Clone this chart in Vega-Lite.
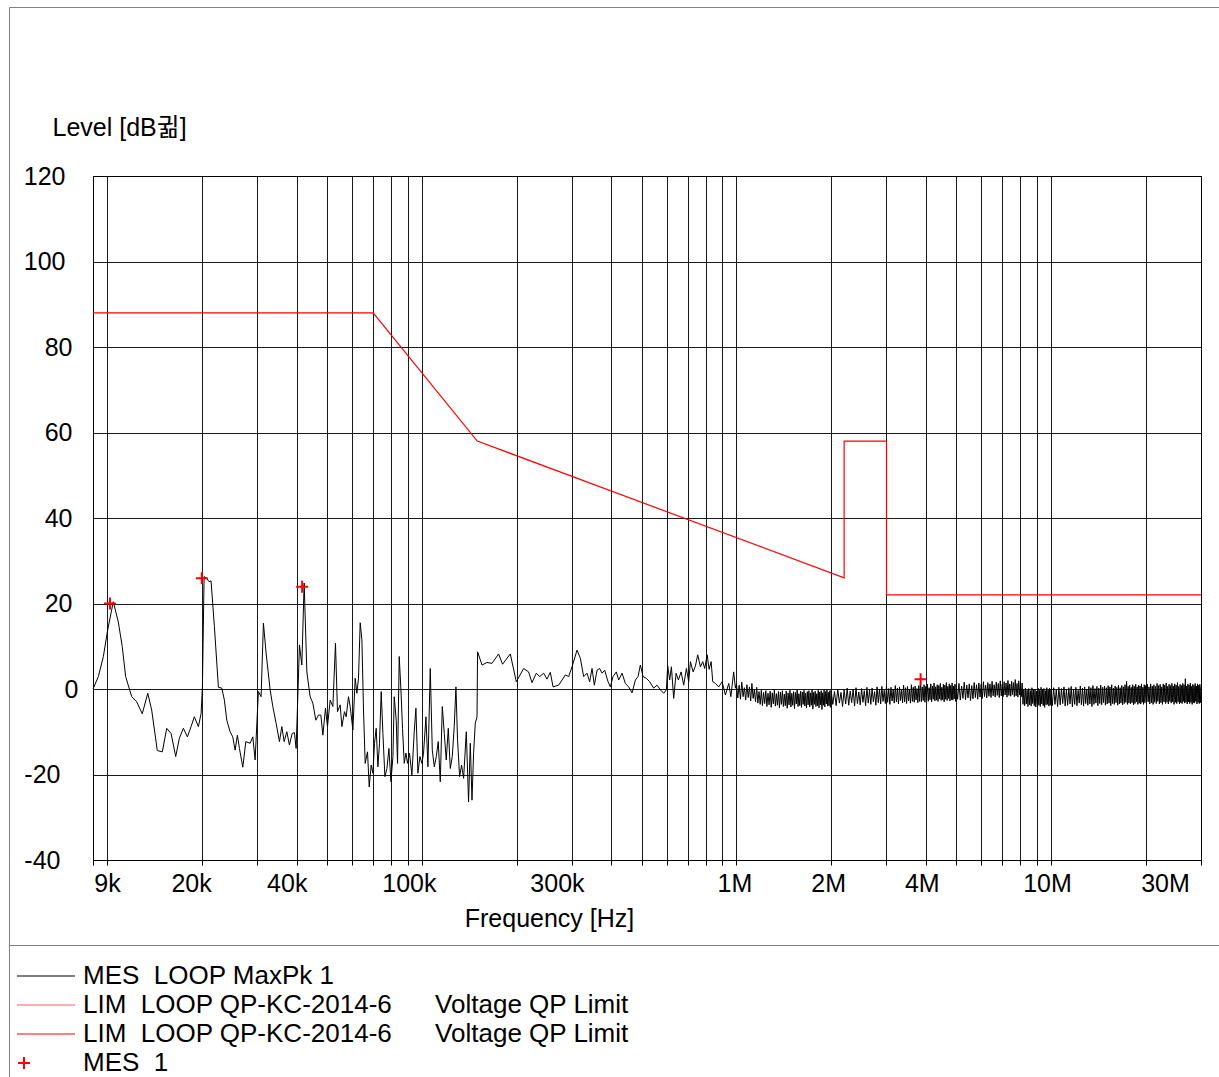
{
  "$schema": "https://vega.github.io/schema/vega-lite/v6.json",
  "usermeta": {"embedOptions": {"actions": false}},
  "width": 1210,
  "height": 938,
  "autosize": {"type": "none"},
  "padding": {"left": 9, "top": 7, "right": 0, "bottom": 132},
  "background": "white",
  "config": {
    "view": {"stroke": "#808080", "strokeWidth": 1},
    "font": "Liberation Sans",
    "axis": {"labelFont": "Liberation Sans, Noto Sans CJK KR", "titleFont": "Liberation Sans, Noto Sans CJK KR", "labelColor": "#000000", "titleColor": "#000000", "titleFontWeight": "normal"},
    "legend": {"labelFont": "Liberation Sans", "labelColor": "#000000"}
  },
  "datasets": {
    "limit": [
      {"i": 1, "f": 9, "v": 88}, {"i": 2, "f": 70, "v": 88}, {"i": 3, "f": 150, "v": 58}, {"i": 4, "f": 2200, "v": 26},
      {"i": 5, "f": 2200, "v": 58}, {"i": 6, "f": 3000, "v": 58}, {"i": 7, "f": 3000, "v": 22}, {"i": 8, "f": 30000, "v": 22}
    ],
    "marks": [
      {"f": 10.19, "v": 20.0, "s": "MES 1"}, {"f": 19.96, "v": 25.9, "s": "MES 1"}, {"f": 41.6, "v": 23.9, "s": "MES 1"}, {"f": 3851, "v": 2.3, "s": "MES 1"}
    ],
    "trace": [
      {"f":9,"v":0},{"f":9.36,"v":2.9},{"f":9.71,"v":7.6},{"f":10.02,"v":13.8},{"f":10.44,"v":20.4},{"f":10.83,"v":15.7},{"f":11.15,"v":9.9},{"f":11.43,"v":2.9},{"f":11.95,"v":-1.8},{"f":12.39,"v":-3.0},
      {"f":12.91,"v":-5.8},{"f":13.44,"v":-1.0},{"f":13.83,"v":-4.9},{"f":14.41,"v":-14.4},{"f":14.95,"v":-14.7},{"f":15.44,"v":-9.2},{"f":15.94,"v":-10.4},{"f":16.49,"v":-15.8},{"f":16.94,"v":-11.5},{"f":17.44,"v":-9.2},
      {"f":17.96,"v":-11.2},{"f":18.45,"v":-8.8},{"f":18.90,"v":-6.5},{"f":19.47,"v":-8.8},{"f":19.86,"v":-5.7},{"f":20.05,"v":0.5},{"f":20.30,"v":26.3},{"f":20.70,"v":25.9},{"f":21.05,"v":25.1},{"f":21.36,"v":25.3},
      {"f":21.89,"v":14.6},{"f":22.54,"v":0.4},{"f":23.11,"v":0.2},{"f":23.55,"v":-2.6},{"f":23.97,"v":-7.3},{"f":24.55,"v":-10},{"f":25.04,"v":-11.2},{"f":25.47,"v":-14.3},{"f":25.90,"v":-10.8},{"f":26.29,"v":-13.9},
      {"f":26.95,"v":-18.3},{"f":27.55,"v":-12.3},{"f":28.43,"v":-12.7},{"f":29.00,"v":-11.2},{"f":29.49,"v":-16.6},{"f":30.21,"v":-0.6},{"f":30.81,"v":-1.8},{"f":31.34,"v":15.4},{"f":31.96,"v":8.4},{"f":32.92,"v":-0.2},
      {"f":33.57,"v":-4.1},{"f":34.39,"v":-8.0},{"f":35.24,"v":-12.3},{"f":35.86,"v":-8.8},{"f":36.47,"v":-12.3},{"f":37.20,"v":-10},{"f":37.91,"v":-13.1},{"f":38.67,"v":-10.4},{"f":39.33,"v":-10.2},{"f":39.82,"v":-13.9},
      {"f":40.80,"v":10.3},{"f":41.52,"v":5.6},{"f":42.23,"v":24.8},{"f":43.07,"v":4.0},{"f":44.12,"v":-1.8},{"f":45.00,"v":-3.3},{"f":46.00,"v":-7.3},{"f":46.89,"v":-6.1},{"f":47.72,"v":-6.1},{"f":48.43,"v":-10.8},
      {"f":49.36,"v":-4.5},{"f":50.09,"v":-8.8},{"f":51.09,"v":-2.6},{"f":52.11,"v":-4.1},{"f":53.11,"v":10.7},{"f":53.90,"v":-5.3},{"f":54.97,"v":-3.7},{"f":55.66,"v":-8.8},{"f":56.73,"v":-5.3},{"f":57.44,"v":-6.5},
      {"f":58.42,"v":-1.8},{"f":59.15,"v":-4.1},{"f":60.33,"v":-9.6},{"f":61.36,"v":2.5},{"f":62.13,"v":-1.0},{"f":62.86,"v":2.5},{"f":63.65,"v":15.5},{"f":64.45,"v":11.5},{"f":65.21,"v":-4.9},{"f":66.02,"v":-17.4},
      {"f":67.15,"v":-14.7},{"f":67.99,"v":-22.9},{"f":68.99,"v":-17.8},{"f":69.86,"v":-19.7},{"f":70.68,"v":-12.7},{"f":71.56,"v":-9.2},{"f":72.46,"v":-18.2},{"f":73.31,"v":-12.7},{"f":74.23,"v":-0.6},{"f":75.16,"v":-10.4},
      {"f":76.27,"v":-20.5},{"f":77.40,"v":-18.6},{"f":78.54,"v":-13.9},{"f":79.71,"v":-21.7},{"f":80.88,"v":-15.8},{"f":81.66,"v":-1.8},{"f":82.86,"v":-7.3},{"f":83.65,"v":-17.4},{"f":84.70,"v":7.6},{"f":85.76,"v":-0.2},
      {"f":86.77,"v":-9.2},{"f":87.86,"v":-17.4},{"f":88.95,"v":-15.0},{"f":90.0,"v":-17.4},{"f":91.32,"v":-15.0},{"f":92.94,"v":-20.1},{"f":94.53,"v":-10},{"f":95.71,"v":-4.5},{"f":97.12,"v":-19.7},{"f":98.56,"v":-15.8},
      {"f":100.0,"v":-17.4},{"f":101.2,"v":-15.0},{"f":103.0,"v":-6.5},{"f":104.5,"v":-18.2},{"f":106.3,"v":4.8},{"f":107.9,"v":-14.3},{"f":109.5,"v":-18.2},{"f":111.1,"v":-15.8},{"f":112.7,"v":-12.3},{"f":114.4,"v":-21.7},
      {"f":116.1,"v":-4.1},{"f":117.8,"v":-10.4},{"f":119.5,"v":-16.6},{"f":121.3,"v":-9.2},{"f":123.1,"v":-18.6},{"f":124.9,"v":-15.8},{"f":126.7,"v":-8.8},{"f":128.3,"v":0.5},{"f":129.8,"v":-11.9},{"f":131.8,"v":-20.5},
      {"f":133.7,"v":-17.8},{"f":135.7,"v":-20.9},{"f":138.4,"v":-10},{"f":140.7,"v":-26.4},{"f":142.5,"v":-12.7},{"f":144.3,"v":-26},{"f":146.0,"v":-15},{"f":147.8,"v":-8.0},{"f":149.7,"v":-6.5},{"f":150.3,"v":8.7},
      {"f":155.3,"v":5.6},{"f":161.0,"v":6.2},{"f":167.0,"v":6.0},{"f":175.3,"v":8.2},{"f":180.5,"v":5.8},{"f":191.0,"v":8.2},{"f":199.6,"v":1.7},{"f":210.6,"v":4.8},{"f":218.4,"v":4.0},{"f":223.9,"v":1.5},
      {"f":231.1,"v":3.7},{"f":236.7,"v":2.9},{"f":243.8,"v":3.7},{"f":249.9,"v":2.3},{"f":256.0,"v":3.9},{"f":261.2,"v":0.5},{"f":272.1,"v":0.9},{"f":279.0,"v":2.1},{"f":285.8,"v":3.3},{"f":292.8,"v":2.9},
      {"f":300.2,"v":5.2},{"f":311.3,"v":9.1},{"f":319.0,"v":7.2},{"f":326.8,"v":2.9},{"f":335.0,"v":3.7},{"f":341.4,"v":1.7},{"f":347.5,"v":4.8},{"f":353.4,"v":0.9},{"f":360.5,"v":4.4},{"f":367.4,"v":4.8},
      {"f":373.9,"v":3.7},{"f":381.1,"v":4.4},{"f":390.7,"v":1.7},{"f":397.3,"v":0.5},{"f":405.3,"v":2.9},{"f":415.2,"v":4.0},{"f":422.2,"v":2.1},{"f":432.9,"v":3.7},{"f":443.5,"v":1.3},{"f":454.3,"v":0.5},
      {"f":465.8,"v":-0.9},{"f":477.2,"v":2.1},{"f":486.7,"v":2.9},{"f":495.0,"v":5.6},{"f":504.9,"v":2.9},{"f":517.2,"v":2.5},{"f":529.9,"v":1.7},{"f":545.6,"v":0.2},{"f":559.4,"v":0.9},{"f":573.1,"v":-0.2},
      {"f":587.1,"v":-1.0},{"f":598.8,"v":-0.2},{"f":604.6,"v":5.4},{"f":613.5,"v":2.1},{"f":621.2,"v":5.2},{"f":631.8,"v":-2.2},{"f":643.0,"v":3.7},{"f":653.9,"v":2.1},{"f":667.0,"v":4.0},{"f":679.8,"v":0.9},
      {"f":693.4,"v":4.8},{"f":705.2,"v":1.7},{"f":714.0,"v":6.4},{"f":728.3,"v":4.0},{"f":740.7,"v":5.4},{"f":753.3,"v":8.0},{"f":768.3,"v":5.2},{"f":781.4,"v":6.4},{"f":792.9,"v":4.8},{"f":807.0,"v":8.0},
      {"f":818.9,"v":4.6},{"f":831.0,"v":6.4},{"f":840.8,"v":1.7},{"f":857.6,"v":1.3},{"f":878.6,"v":0.5},{"f":900.7,"v":1.7},{"f":922.7,"v":-1.4},{"f":945.3,"v":1.3},{"f":960,"v":-1.8},{"f":980,"v":4.0},
      {"f":992.8,"v":0.2},
      {"f":1000,"v":1.2},{"f":1010,"v":-2.1},{"f":1020,"v":0.9},{"f":1030,"v":-2.4},{"f":1040,"v":1.6},{"f":1050,"v":-1.8},{"f":1060,"v":0.3},{"f":1070,"v":-2.6},{"f":1080,"v":1.0},{"f":1090,"v":-2.0},
      {"f":1100,"v":0.5},{"f":1110,"v":-2.8},{"f":1120,"v":1.3},{"f":1130,"v":-2.2},{"f":1140,"v":-0.2},{"f":1150,"v":-3.0},{"f":1160,"v":0.4},{"f":1170,"v":-3.3},{"f":1180,"v":-0.6},{"f":1190,"v":-3.6},
      {"f":1200,"v":-0.3},{"f":1210,"v":-3.9},{"f":1220,"v":-0.8},{"f":1230,"v":-3.4},{"f":1240,"v":-0.4},{"f":1250,"v":-4.1},{"f":1260,"v":-1.0},{"f":1270,"v":-3.7},{"f":1280,"v":-0.5},{"f":1290,"v":-4.3},
      {"f":1300,"v":-0.9},{"f":1310,"v":-3.5},{"f":1320,"v":-0.2},{"f":1330,"v":-4.0},{"f":1340,"v":-1.1},{"f":1350,"v":-3.8},{"f":1360,"v":-0.6},{"f":1370,"v":-4.4},{"f":1380,"v":-0.7},{"f":1390,"v":-3.6},
      {"f":1400,"v":-0.4},{"f":1410,"v":-4.1},{"f":1420,"v":-1.2},{"f":1430,"v":-3.9},{"f":1440,"v":-0.5},{"f":1450,"v":-4.5},{"f":1460,"v":-0.9},{"f":1470,"v":-3.7},{"f":1480,"v":-0.3},{"f":1490,"v":-4.2},
      {"f":1500,"v":-1.0},{"f":1510,"v":-3.8},{"f":1520,"v":-0.6},{"f":1530,"v":-4.6},{"f":1540,"v":-0.8},{"f":1550,"v":-3.5},{"f":1560,"v":-0.2},{"f":1570,"v":-4.1},{"f":1580,"v":-1.1},{"f":1590,"v":-3.9},
      {"f":1600,"v":-0.5},{"f":1610,"v":-4.3},{"f":1620,"v":-0.7},{"f":1630,"v":-3.6},{"f":1640,"v":-0.3},{"f":1650,"v":-4.0},{"f":1660,"v":-1.0},{"f":1670,"v":-4.4},{"f":1680,"v":-0.6},{"f":1690,"v":-3.7},
      {"f":1700,"v":-0.4},{"f":1710,"v":-4.2},{"f":1720,"v":-0.9},{"f":1730,"v":-3.8},{"f":1740,"v":-0.2},{"f":1750,"v":-4.7},{"f":1760,"v":-0.8},{"f":1770,"v":-3.6},{"f":1780,"v":-0.5},{"f":1790,"v":-4.1},
      {"f":1800,"v":-1.1},{"f":1810,"v":-3.9},{"f":1820,"v":-0.3},{"f":1830,"v":-4.4},{"f":1840,"v":-0.7},{"f":1850,"v":-3.7},{"f":1860,"v":-0.4},{"f":1870,"v":-4.8},{"f":1880,"v":-0.9},{"f":1890,"v":-3.8},
      {"f":1900,"v":-0.2},{"f":1910,"v":-4.2},{"f":1920,"v":-0.6},{"f":1930,"v":-3.5},{"f":1940,"v":-0.1},{"f":1950,"v":-4.0},{"f":1960,"v":-0.8},{"f":1970,"v":-3.9},{"f":1980,"v":-0.4},{"f":1990,"v":-4.3},
      {"f":2000,"v":-0.3},{"f":2025,"v":-3.6},{"f":2050,"v":-0.6},{"f":2075,"v":-3.9},{"f":2100,"v":0.0},{"f":2125,"v":-3.3},{"f":2150,"v":-0.8},{"f":2175,"v":-4.1},{"f":2200,"v":-0.2},{"f":2225,"v":-3.5},
      {"f":2250,"v":0.2},{"f":2275,"v":-3.8},{"f":2300,"v":-0.5},{"f":2325,"v":-3.2},{"f":2350,"v":-0.1},{"f":2375,"v":-4.0},{"f":2400,"v":0.3},{"f":2425,"v":-3.4},{"f":2450,"v":-0.7},{"f":2475,"v":-3.7},
      {"f":2500,"v":0.1},{"f":2525,"v":-3.1},{"f":2550,"v":-0.4},{"f":2575,"v":-3.9},{"f":2600,"v":0.4},{"f":2625,"v":-3.3},{"f":2650,"v":-0.2},{"f":2675,"v":-3.6},{"f":2700,"v":0.2},{"f":2725,"v":-3.0},
      {"f":2750,"v":-0.6},{"f":2775,"v":-3.8},{"f":2800,"v":0.5},{"f":2825,"v":-3.2},{"f":2850,"v":0.0},{"f":2875,"v":-3.5},{"f":2900,"v":0.6},{"f":2925,"v":-2.9},{"f":2950,"v":-0.3},{"f":2975,"v":-3.4},
      {"f":3000,"v":0.7},{"f":3025,"v":-3.1},{"f":3050,"v":0.1},{"f":3075,"v":-3.6},{"f":3100,"v":0.4},{"f":3125,"v":-2.8},{"f":3150,"v":-0.2},{"f":3175,"v":-3.3},{"f":3200,"v":0.8},{"f":3225,"v":-3.0},
      {"f":3250,"v":0.2},{"f":3275,"v":-3.5},{"f":3300,"v":0.5},{"f":3325,"v":-2.7},{"f":3350,"v":-0.1},{"f":3375,"v":-3.2},{"f":3400,"v":0.9},{"f":3425,"v":-3.0},{"f":3450,"v":0.3},{"f":3475,"v":-3.4},
      {"f":3500,"v":0.6},{"f":3525,"v":-2.8},{"f":3550,"v":0.0},{"f":3575,"v":-3.3},{"f":3600,"v":1.0},{"f":3625,"v":-2.9},{"f":3650,"v":0.4},{"f":3675,"v":-3.1},{"f":3700,"v":0.7},{"f":3725,"v":-2.6},
      {"f":3750,"v":0.1},{"f":3775,"v":-3.2},{"f":3800,"v":0.8},{"f":3825,"v":-2.9},{"f":3850,"v":2.1},{"f":3875,"v":-3.0},{"f":3900,"v":0.5},{"f":3925,"v":-2.7},{"f":3950,"v":1.0},{"f":3975,"v":-3.1},
      {"f":4000,"v":0.6},{"f":4025,"v":-2.6},{"f":4050,"v":1.1},{"f":4075,"v":-2.9},{"f":4100,"v":0.3},{"f":4125,"v":-2.5},{"f":4150,"v":1.2},{"f":4175,"v":-3.0},{"f":4200,"v":0.7},{"f":4225,"v":-2.4},
      {"f":4250,"v":1.4},{"f":4275,"v":-2.8},{"f":4300,"v":0.5},{"f":4325,"v":-2.6},{"f":4350,"v":1.0},{"f":4375,"v":-2.9},{"f":4400,"v":0.8},{"f":4425,"v":-2.3},{"f":4450,"v":1.3},{"f":4475,"v":-2.7},
      {"f":4500,"v":0.4},{"f":4525,"v":-2.5},{"f":4550,"v":1.1},{"f":4575,"v":-3.0},{"f":4600,"v":0.9},{"f":4625,"v":-2.4},{"f":4650,"v":1.5},{"f":4675,"v":-2.7},{"f":4700,"v":0.6},{"f":4725,"v":-2.2},
      {"f":4750,"v":1.2},{"f":4775,"v":-2.8},{"f":4800,"v":0.8},{"f":4825,"v":-2.5},{"f":4850,"v":1.4},{"f":4875,"v":-2.6},{"f":4900,"v":0.7},{"f":4925,"v":-2.3},{"f":4950,"v":1.1},{"f":4975,"v":-2.9},
      {"f":5000,"v":1.0},{"f":5050,"v":-2.4},{"f":5100,"v":1.3},{"f":5150,"v":-2.6},{"f":5200,"v":0.7},{"f":5250,"v":-2.2},{"f":5300,"v":1.6},{"f":5350,"v":-2.5},{"f":5400,"v":0.9},{"f":5450,"v":-2.1},
      {"f":5500,"v":1.2},{"f":5550,"v":-2.7},{"f":5600,"v":0.8},{"f":5650,"v":-2.3},{"f":5700,"v":1.5},{"f":5750,"v":-2.0},{"f":5800,"v":1.0},{"f":5850,"v":-2.4},{"f":5900,"v":1.4},{"f":5950,"v":-1.9},
      {"f":6000,"v":1.1},{"f":6050,"v":-2.2},{"f":6100,"v":1.7},{"f":6150,"v":-1.8},{"f":6200,"v":0.9},{"f":6250,"v":-2.1},{"f":6300,"v":1.5},{"f":6350,"v":-1.7},{"f":6400,"v":1.2},{"f":6450,"v":-2.0},
      {"f":6500,"v":1.8},{"f":6550,"v":-1.6},{"f":6600,"v":1.0},{"f":6650,"v":-1.9},{"f":6700,"v":1.6},{"f":6750,"v":-1.5},{"f":6800,"v":1.3},{"f":6850,"v":-2.0},{"f":6900,"v":1.9},{"f":6950,"v":-1.6},
      {"f":7000,"v":1.1},{"f":7050,"v":-1.8},{"f":7100,"v":1.7},{"f":7150,"v":-1.4},{"f":7200,"v":1.4},{"f":7250,"v":-1.9},{"f":7300,"v":2.0},{"f":7350,"v":-1.5},{"f":7400,"v":1.2},{"f":7450,"v":-1.7},
      {"f":7500,"v":1.8},{"f":7550,"v":-1.3},{"f":7600,"v":1.5},{"f":7650,"v":-1.8},{"f":7700,"v":2.2},{"f":7750,"v":-1.6},{"f":7800,"v":1.3},{"f":7850,"v":-1.9},{"f":7900,"v":1.9},{"f":7950,"v":-1.4},
      {"f":8000,"v":1.6},{"f":8050,"v":-1.8},{"f":8100,"v":1.4},{"f":8150,"v":-3.6},{"f":8200,"v":-0.1},{"f":8250,"v":-3.9},{"f":8300,"v":0.2},{"f":8350,"v":-3.5},{"f":8400,"v":-0.3},{"f":8450,"v":-4.1},
      {"f":8500,"v":0.1},{"f":8550,"v":-3.7},{"f":8600,"v":-0.4},{"f":8650,"v":-4.0},{"f":8700,"v":0.3},{"f":8750,"v":-3.4},{"f":8800,"v":-0.2},{"f":8850,"v":-3.9},{"f":8900,"v":0.0},{"f":8950,"v":-4.2},
      {"f":9000,"v":-0.5},{"f":9050,"v":-3.6},{"f":9100,"v":0.2},{"f":9150,"v":-3.8},{"f":9200,"v":-0.3},{"f":9250,"v":-4.1},{"f":9300,"v":0.4},{"f":9350,"v":-3.5},{"f":9400,"v":-0.1},{"f":9450,"v":-3.9},
      {"f":9500,"v":0.1},{"f":9550,"v":-4.3},{"f":9600,"v":-0.4},{"f":9650,"v":-3.7},{"f":9700,"v":0.3},{"f":9750,"v":-3.6},{"f":9800,"v":-0.2},{"f":9850,"v":-4.0},{"f":9900,"v":0.2},{"f":9950,"v":-3.8},
      {"f":10000,"v":0.0},{"f":10100,"v":-3.9},{"f":10200,"v":0.3},{"f":10300,"v":-3.6},{"f":10400,"v":-0.2},{"f":10500,"v":-4.1},{"f":10600,"v":0.4},{"f":10700,"v":-3.7},{"f":10800,"v":0.1},{"f":10900,"v":-3.4},
      {"f":11000,"v":0.5},{"f":11100,"v":-4.0},{"f":11200,"v":-0.1},{"f":11300,"v":-3.8},{"f":11400,"v":0.3},{"f":11500,"v":-3.5},{"f":11600,"v":0.6},{"f":11700,"v":-4.2},{"f":11800,"v":0.0},{"f":11900,"v":-3.6},
      {"f":12000,"v":0.4},{"f":12100,"v":-3.9},{"f":12200,"v":-0.3},{"f":12300,"v":-3.3},{"f":12400,"v":0.7},{"f":12500,"v":-3.7},{"f":12600,"v":0.2},{"f":12700,"v":-4.0},{"f":12800,"v":0.5},{"f":12900,"v":-3.4},
      {"f":13000,"v":-0.1},{"f":13100,"v":-3.8},{"f":13200,"v":0.6},{"f":13300,"v":-3.5},{"f":13400,"v":0.3},{"f":13500,"v":-4.1},{"f":13600,"v":0.8},{"f":13700,"v":-3.6},{"f":13800,"v":0.1},{"f":13900,"v":-3.3},
      {"f":14000,"v":0.6},{"f":14100,"v":-3.9},{"f":14200,"v":0.2},{"f":14300,"v":-3.4},{"f":14400,"v":0.9},{"f":14500,"v":-3.7},{"f":14600,"v":0.4},{"f":14700,"v":-3.2},{"f":14800,"v":0.7},{"f":14900,"v":-3.8},
      {"f":15000,"v":0.3},{"f":15100,"v":-3.5},{"f":15200,"v":0.8},{"f":15300,"v":-3.3},{"f":15400,"v":0.5},{"f":15500,"v":-3.9},{"f":15600,"v":1.0},{"f":15700,"v":-3.4},{"f":15800,"v":0.2},{"f":15900,"v":-3.6},
      {"f":16000,"v":0.7},{"f":16100,"v":-3.2},{"f":16200,"v":0.4},{"f":16300,"v":-3.8},{"f":16400,"v":0.9},{"f":16500,"v":-3.5},{"f":16600,"v":0.3},{"f":16700,"v":-3.3},{"f":16800,"v":0.8},{"f":16900,"v":-3.7},
      {"f":17000,"v":0.5},{"f":17100,"v":-3.4},{"f":17200,"v":1.0},{"f":17300,"v":-3.1},{"f":17400,"v":1.8},{"f":17500,"v":-3.6},{"f":17600,"v":0.6},{"f":17700,"v":-3.3},{"f":17800,"v":0.9},{"f":17900,"v":-3.5},
      {"f":18000,"v":0.4},{"f":18100,"v":-3.2},{"f":18200,"v":1.0},{"f":18300,"v":-3.7},{"f":18400,"v":0.6},{"f":18500,"v":-3.4},{"f":18600,"v":1.1},{"f":18700,"v":-3.0},{"f":18800,"v":0.5},{"f":18900,"v":-3.6},
      {"f":19000,"v":0.9},{"f":19100,"v":-3.3},{"f":19200,"v":0.7},{"f":19300,"v":-3.5},{"f":19400,"v":1.2},{"f":19500,"v":-3.1},{"f":19600,"v":0.4},{"f":19700,"v":-3.6},{"f":19800,"v":1.0},{"f":19900,"v":-3.2},
      {"f":20000,"v":0.8},{"f":20125,"v":-3.4},{"f":20250,"v":1.1},{"f":20375,"v":-3.0},{"f":20500,"v":0.5},{"f":20625,"v":-3.5},{"f":20750,"v":1.2},{"f":20875,"v":-3.2},{"f":21000,"v":0.7},{"f":21125,"v":-3.6},
      {"f":21250,"v":1.0},{"f":21375,"v":-3.1},{"f":21500,"v":0.6},{"f":21625,"v":-3.4},{"f":21750,"v":1.3},{"f":21875,"v":-2.9},{"f":22000,"v":0.8},{"f":22125,"v":-3.5},{"f":22250,"v":1.1},{"f":22375,"v":-3.2},
      {"f":22500,"v":0.5},{"f":22625,"v":-3.6},{"f":22750,"v":1.2},{"f":22875,"v":-3.0},{"f":23000,"v":0.9},{"f":23125,"v":-3.4},{"f":23250,"v":1.4},{"f":23375,"v":-3.1},{"f":23500,"v":0.6},{"f":23625,"v":-3.5},
      {"f":23750,"v":1.1},{"f":23875,"v":-2.9},{"f":24000,"v":0.8},{"f":24125,"v":-3.3},{"f":24250,"v":1.3},{"f":24375,"v":-3.0},{"f":24500,"v":0.7},{"f":24625,"v":-3.6},{"f":24750,"v":1.2},{"f":24875,"v":-3.1},
      {"f":25000,"v":0.9},{"f":25125,"v":-3.4},{"f":25250,"v":1.5},{"f":25375,"v":-3.0},{"f":25500,"v":0.6},{"f":25625,"v":-3.5},{"f":25750,"v":1.1},{"f":25875,"v":-3.2},{"f":26000,"v":0.8},{"f":26125,"v":-3.4},
      {"f":26250,"v":1.3},{"f":26375,"v":-2.9},{"f":26500,"v":1.0},{"f":26625,"v":-3.3},{"f":26750,"v":2.4},{"f":26875,"v":-3.1},{"f":27000,"v":0.7},{"f":27125,"v":-3.5},{"f":27250,"v":1.2},{"f":27375,"v":-3.0},
      {"f":27500,"v":0.9},{"f":27625,"v":-3.4},{"f":27750,"v":1.4},{"f":27875,"v":-3.1},{"f":28000,"v":0.6},{"f":28125,"v":-3.6},{"f":28250,"v":1.1},{"f":28375,"v":-3.2},{"f":28500,"v":0.8},{"f":28625,"v":-3.3},
      {"f":28750,"v":1.3},{"f":28875,"v":-2.9},{"f":29000,"v":0.7},{"f":29125,"v":-3.5},{"f":29250,"v":1.2},{"f":29375,"v":-3.1},{"f":29500,"v":0.9},{"f":29625,"v":-3.4},{"f":29750,"v":1.1},{"f":29875,"v":-3.2},
      {"f":30000,"v":0.5}
    ]
  },
  "resolve": {"scale": {"y": "independent"}, "axis": {"y": "independent"}},
  "layer": [
    {
      "layer": [
        {
          "data": {"name": "trace"},
          "mark": {"type": "line", "strokeWidth": 1, "clip": false},
          "encoding": {
            "x": {
              "field": "f", "type": "quantitative",
              "scale": {"type": "log", "domain": [9, 30000], "range": [84, 1192], "nice": false},
              "axis": {
                "orient": "bottom", "offset": -85,
                "values": [9, 10, 20, 30, 40, 50, 60, 70, 80, 90, 100, 200, 300, 400, 500, 600, 700, 800, 900, 1000, 2000, 3000, 4000, 5000, 6000, 7000, 8000, 9000, 10000, 20000, 30000],
                "labelExpr": "indexof([9,20,40,100,300,1000,2000,4000,10000,30000], datum.value) >= 0 ? (datum.value >= 1000 ? (datum.value / 1000) + 'M' : datum.value + 'k') : ''",
                "grid": false,
                "ticks": true, "tickSize": 5, "tickColor": "#000000", "tickWidth": 1,
                "domain": true, "domainColor": "#000000", "domainWidth": 1,
                "labelFontSize": 25, "labelPadding": 6, "labelBaseline": "top", "labelAlign": "center",
                "labelFlush": false, "labelOverlap": false, "labelBound": false,
                "labelOffset": {"condition": [
                  {"test": "datum.value == 9", "value": 14},
                  {"test": "datum.value == 20", "value": -11},
                  {"test": "datum.value == 40", "value": -10},
                  {"test": "datum.value == 100", "value": -13},
                  {"test": "datum.value == 300", "value": -15},
                  {"test": "datum.value == 1000", "value": -2},
                  {"test": "datum.value == 2000", "value": -3},
                  {"test": "datum.value == 4000", "value": -4},
                  {"test": "datum.value == 10000", "value": -4},
                  {"test": "datum.value == 30000", "value": -36}
                ], "value": 0},
                "title": "Frequency [Hz]", "titleFontSize": 25, "titleX": 540, "titleY": 66, "titleAlign": "center", "titleBaseline": "alphabetic"
              }
            },
            "y": {
              "field": "v", "type": "quantitative",
              "scale": {"domain": [-40, 120], "range": [853, 169], "nice": false, "zero": false},
              "axis": {
                "orient": "left", "offset": -84,
                "values": [-40, -20, 0, 20, 40, 60, 80, 100, 120],
                "labelExpr": "'' + datum.value",
                "grid": true, "gridColor": "#1a1a1a", "gridWidth": 1, "gridOpacity": 1,
                "ticks": false, "domain": true, "domainColor": "#000000", "domainWidth": 1,
                "labelFontSize": 25, "labelAlign": "right", "labelBaseline": "middle",
                "labelPadding": {"condition": [
                  {"test": "datum.value >= 100", "value": 28},
                  {"test": "datum.value > 0", "value": 21},
                  {"test": "datum.value == 0", "value": 15}
                ], "value": 33},
                "title": "Level [dB귊]", "titleAngle": 0, "titleAlign": "left", "titleBaseline": "alphabetic", "titleX": -41, "titleY": 128, "titleFontSize": 25
              }
            },
            "color": {
              "datum": "MES",
              "scale": {"domain": ["MES", "LIM1", "LIM2"], "range": ["#000000", "#ff5a5a", "#ff0000"]},
              "legend": {
                "orient": "none", "legendX": 7, "legendY": 956, "title": null,
                "symbolType": "stroke", "symbolSize": 3364, "symbolStrokeWidth": 1.2,
                "labelFontSize": 26, "labelOffset": 7, "rowPadding": 3, "clipHeight": 26, "padding": 0, "labelLimit": 0,
                "labelExpr": "datum.value == 'MES' ? 'MES\u00a0 LOOP MaxPk 1' : 'LIM\u00a0 LOOP QP-KC-2014-6\u00a0\u00a0\u00a0\u00a0\u00a0\u00a0Voltage QP Limit'"
              }
            }
          }
        },
        {
          "data": {"name": "limit"},
          "mark": {"type": "line", "strokeWidth": 1.2, "clip": false},
          "encoding": {
            "x": {"field": "f", "type": "quantitative", "axis": {
              "orient": "top", "offset": -169, "domain": true, "domainColor": "#000000", "ticks": false, "labels": false, "title": null,
              "values": [9, 10, 20, 30, 40, 50, 60, 70, 80, 90, 100, 200, 300, 400, 500, 600, 700, 800, 900, 1000, 2000, 3000, 4000, 5000, 6000, 7000, 8000, 9000, 10000, 20000, 30000],
              "grid": true, "gridColor": "#1a1a1a", "gridWidth": 1, "gridOpacity": 1
            }},
            "y": {"field": "v", "type": "quantitative", "axis": {"orient": "right", "offset": -18, "domain": true, "domainColor": "#000000", "ticks": false, "labels": false, "grid": false, "title": null}},
            "order": {"field": "i"},
            "color": {"datum": "LIM2"}
          }
        },
        {
          "data": {"name": "marks"},
          "mark": {"type": "point", "filled": false, "stroke": "#ff0000", "strokeWidth": 2, "size": 144, "opacity": 1},
          "encoding": {
            "x": {"field": "f", "type": "quantitative", "axis": null},
            "y": {"field": "v", "type": "quantitative", "axis": null},
            "shape": {
              "field": "s", "type": "nominal",
              "scale": {"range": ["M-1,0H1M0,-1V1"]},
              "legend": {
                "orient": "none", "legendX": 2, "legendY": 1043, "title": null,
                "symbolSize": 144, "symbolStrokeWidth": 2, "symbolStrokeColor": "#ff0000", "symbolFillColor": "transparent",
                "labelFontSize": 26, "labelOffset": 46, "clipHeight": 26, "padding": 0, "labelLimit": 0,
                "labelExpr": "'MES\u00a0 1'"
              }
            }
          }
        }
      ]
    },
    {
      "data": {"name": "marks"},
      "mark": {"type": "point", "opacity": 0},
      "encoding": {
        "y": {
          "field": "v", "type": "quantitative",
          "scale": {"domain": [0, 30], "range": [938, 1070], "nice": false, "zero": false},
          "axis": {"orient": "left", "offset": 0, "domain": true, "domainColor": "#808080", "domainWidth": 1, "ticks": false, "labels": false, "grid": false, "title": null}
        }
      }
    }
  ]
}
